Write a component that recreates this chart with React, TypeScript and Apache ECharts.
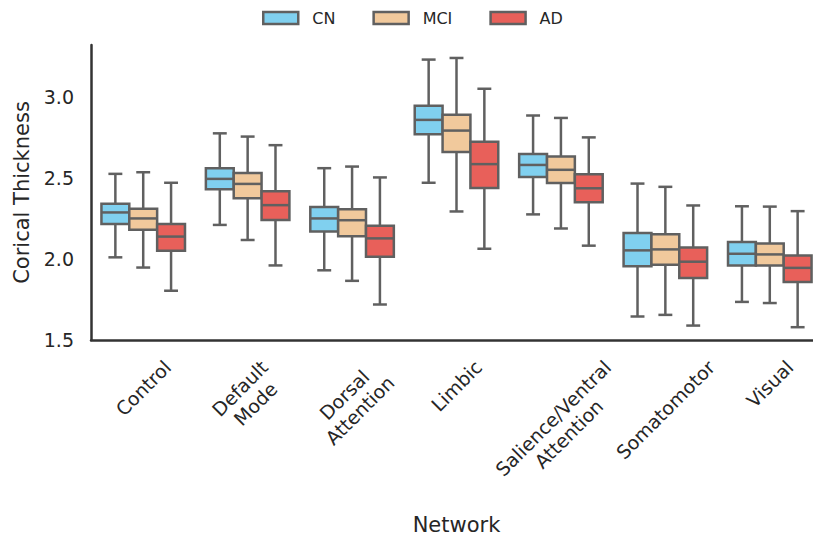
import React, { useEffect, useRef } from "react";
import * as echarts from "echarts";

// ---- data ----
const categories = [
  "Control",
  "Default\nMode",
  "Dorsal\nAttention",
  "Limbic",
  "Salience/Ventral\nAttention",
  "Somatomotor",
  "Visual",
];
const groups = ["CN", "MCI", "AD"];
// [low whisker, Q1, median, Q3, high whisker]
const cnValues = [
  [2.01, 2.215, 2.287, 2.34, 2.525],
  [2.21, 2.43, 2.494, 2.56, 2.775],
  [1.93, 2.17, 2.25, 2.32, 2.56],
  [2.47, 2.77, 2.858, 2.945, 3.23],
  [2.275, 2.505, 2.58, 2.648, 2.885],
  [1.645, 1.955, 2.053, 2.16, 2.465],
  [1.735, 1.96, 2.032, 2.105, 2.325],
];
const mciValues = [
  [1.947, 2.18, 2.25, 2.31, 2.535],
  [2.117, 2.375, 2.463, 2.53, 2.755],
  [1.865, 2.14, 2.239, 2.307, 2.57],
  [2.293, 2.66, 2.792, 2.89, 3.24],
  [2.188, 2.468, 2.55, 2.632, 2.87],
  [1.655, 1.965, 2.059, 2.152, 2.445],
  [1.728, 1.96, 2.028, 2.095, 2.323],
];
const adValues = [
  [1.804, 2.05, 2.138, 2.215, 2.47],
  [1.96, 2.24, 2.332, 2.418, 2.702],
  [1.719, 2.013, 2.127, 2.205, 2.503],
  [2.063, 2.437, 2.585, 2.723, 3.05],
  [2.082, 2.35, 2.436, 2.522, 2.75],
  [1.589, 1.883, 1.983, 2.07, 2.33],
  [1.579, 1.858, 1.945, 2.022, 2.295],
];
const yTicks = { min: 1.5, max: 3.32, interval: 0.5 };

// ---- styles ----
const COLORS = ["#80d0ef", "#f1c99c", "#e8605a"];
const EDGE = "#606060";
const LW = 2.5;
const TEXT = "#262626";
const FONT = "DejaVu Sans";
const XFS = 19;
const XLH = 22;
const LABEL_TOP = 356;
const C45 = Math.SQRT1_2;

function makeRender(offsetIdx: number, color: string) {
  return (params: any, api: any) => {
    const cat = api.value(0);
    const pLow = api.coord([cat, api.value(1)]);
    const pQ1 = api.coord([cat, api.value(2)]);
    const pMed = api.coord([cat, api.value(3)]);
    const pQ3 = api.coord([cat, api.value(4)]);
    const pHigh = api.coord([cat, api.value(5)]);
    const band = api.size([1, 0])[0];
    const bw = (band * 0.8) / 3;
    const cx = pLow[0] + offsetIdx * bw;
    const capHalf = bw / 4;
    const ls = { stroke: EDGE, lineWidth: LW, fill: null };
    return {
      type: "group",
      children: [
        { type: "line", shape: { x1: cx, y1: pHigh[1], x2: cx, y2: pQ3[1] }, style: ls },
        { type: "line", shape: { x1: cx, y1: pQ1[1], x2: cx, y2: pLow[1] }, style: ls },
        { type: "line", shape: { x1: cx - capHalf, y1: pHigh[1], x2: cx + capHalf, y2: pHigh[1] }, style: ls },
        { type: "line", shape: { x1: cx - capHalf, y1: pLow[1], x2: cx + capHalf, y2: pLow[1] }, style: ls },
        {
          type: "rect",
          shape: { x: cx - bw / 2, y: pQ3[1], width: bw, height: pQ1[1] - pQ3[1] },
          style: { fill: color, stroke: EDGE, lineWidth: LW },
        },
        { type: "line", shape: { x1: cx - bw / 2, y1: pMed[1], x2: cx + bw / 2, y2: pMed[1] }, style: ls },
      ],
    };
  };
}

function measureLabels() {
  const canvas = document.createElement("canvas");
  const ctx = canvas.getContext("2d");
  if (ctx) ctx.font = `${XFS}px "${FONT}"`;
  return categories.map((label) => {
    const lines = label.split("\n");
    let w = 0;
    lines.forEach((l) => {
      const m = ctx ? ctx.measureText(l).width : l.length * XFS * 0.6;
      if (m > w) w = m;
    });
    return { w, h: lines.length * XLH };
  });
}

export default function App() {
  const ref = useRef<HTMLDivElement>(null);
  useEffect(() => {
    if (!ref.current) return;
    const chart = echarts.init(ref.current, null, { renderer: "svg" });
    const all = [cnValues, mciValues, adValues];
    const sizes = measureLabels();
    const series: any[] = groups.map((g, gi) => ({
      name: g,
      type: "custom",
      renderItem: makeRender(gi - 1, COLORS[gi]),
      itemStyle: { color: COLORS[gi], borderColor: EDGE, borderWidth: LW },
      encode: { x: 0, y: [1, 2, 3, 4, 5] },
      data: all[gi].map((v, i) => [i, ...v]),
    }));
    // category tick labels, rotated 45° and centred under each category (matplotlib style)
    series.push({
      name: "categoryLabels",
      type: "custom",
      silent: true,
      clip: false,
      encode: { x: 0, y: 1 },
      data: categories.map((_, i) => [i, yTicks.min]),
      renderItem: (params: any, api: any) => {
        const i = api.value(0);
        const p = api.coord([i, api.value(1)]);
        const s = sizes[i];
        return {
          type: "text",
          x: p[0],
          y: LABEL_TOP + (C45 * (s.w + s.h)) / 2,
          rotation: Math.PI / 4,
          style: {
            text: categories[i],
            align: "center",
            verticalAlign: "middle",
            fontSize: XFS,
            fontFamily: FONT,
            lineHeight: XLH,
            fill: TEXT,
          },
        };
      },
    });
    chart.setOption({
      animation: false,
      textStyle: { fontFamily: FONT },
      legend: {
        data: groups,
        left: 262,
        top: 10,
        padding: 0,
        icon: "rect",
        itemWidth: 35,
        itemHeight: 12,
        itemGap: 37,
        itemStyle: { borderColor: EDGE, borderWidth: LW },
        textStyle: { fontSize: 16, color: TEXT, fontFamily: FONT, padding: [0, 0, 0, 9] },
      },
      grid: { left: 91, top: 45, width: 731, height: 295, outerBoundsMode: "none", containLabel: false },
      xAxis: {
        type: "category",
        data: categories,
        name: "Network",
        nameLocation: "middle",
        nameGap: 174,
        nameTextStyle: { fontSize: 21, color: TEXT, fontFamily: FONT },
        axisLine: { lineStyle: { color: "#333333", width: 2.5 } },
        axisTick: { show: false },
        splitLine: { show: false },
        axisLabel: { show: false },
      },
      yAxis: {
        type: "value",
        min: yTicks.min,
        max: yTicks.max,
        interval: yTicks.interval,
        name: "Corical Thickness",
        nameLocation: "middle",
        nameGap: 53,
        nameTextStyle: { fontSize: 21, color: TEXT, fontFamily: FONT },
        axisLine: { show: true, lineStyle: { color: "#333333", width: 2.5 } },
        axisTick: { show: false },
        splitLine: { show: false },
        axisLabel: {
          showMaxLabel: false,
          margin: 17,
          fontSize: 19,
          color: TEXT,
          fontFamily: FONT,
          formatter: (v: number) => v.toFixed(1),
        },
      },
      series,
    });
    return () => chart.dispose();
  }, []);
  return (
    <div
      ref={ref}
      style={{ position: "fixed", left: 0, top: 0, width: 813, height: 538, background: "#ffffff" }}
    />
  );
}
